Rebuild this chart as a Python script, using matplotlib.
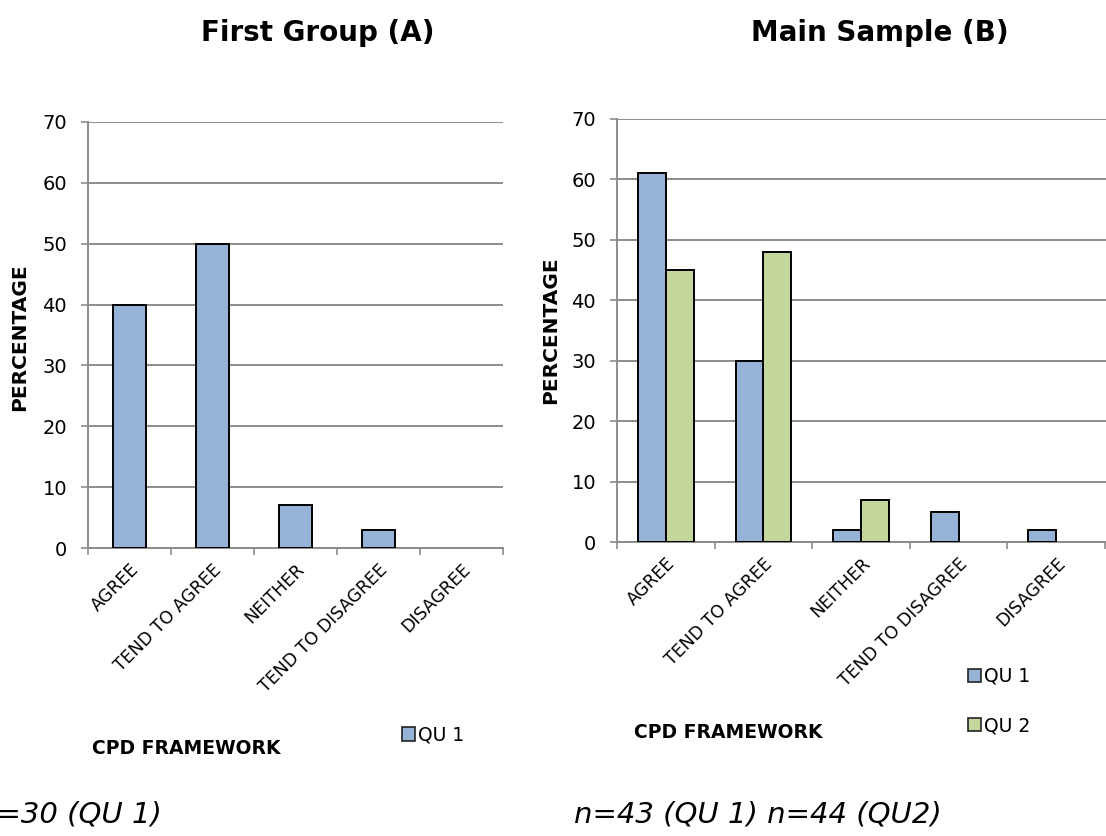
import numpy as np
import matplotlib.pyplot as plt
from matplotlib.patches import Patch

# --- data ---
categories = ['AGREE', 'TEND TO AGREE', 'NEITHER', 'TEND TO DISAGREE', 'DISAGREE']
group_a_qu1 = [40, 50, 7, 3, 0]
sample_b_qu1 = [61, 30, 2, 5, 2]
sample_b_qu2 = [45, 48, 7, 0, 0]

BLUE = '#95B3D7'
GREEN = '#C3D69B'
GRID = '#8C8C8C'

plt.rcParams['font.family'] = ['DejaVu Sans']

W, H = 1106, 836
fig = plt.figure(figsize=(W / 100, H / 100), dpi=100)


def px_axes(x0, y0, x1, y1):
    # axes box given in pixel corners (top-left origin)
    return fig.add_axes([x0 / W, 1 - y1 / H, (x1 - x0) / W, (y1 - y0) / H])


def style(ax, xmax):
    ax.set_ylim(0, 70)
    ax.set_xlim(-0.5, xmax)
    ax.set_yticks(np.arange(0, 71, 10))
    ax.yaxis.grid(True, color=GRID, lw=1.4)
    ax.set_axisbelow(True)
    for s in ['top', 'right']:
        ax.spines[s].set_visible(False)
    for s in ['left', 'bottom']:
        ax.spines[s].set_color(GRID)
        ax.spines[s].set_linewidth(1.4)
    ax.tick_params(axis='y', length=5, width=1.2, color=GRID, labelsize=14, pad=10)
    ax.tick_params(axis='x', which='major', length=0, pad=9)
    ax.tick_params(axis='x', which='minor', length=5, width=1.2, color=GRID)
    ax.set_xticks(np.arange(len(categories)))
    ax.set_xticks(np.arange(len(categories) + 1) - 0.5, minor=True)
    ax.set_xticklabels(categories, rotation=45, ha='right', va='top',
                       rotation_mode='anchor', fontsize=12.5)


def draw_bars(ax, offset, width, values, color):
    x = np.arange(len(values)) + offset
    vals = np.array(values, dtype=float)
    keep = vals > 0
    ax.bar(x[keep], vals[keep], width=width, color=color,
           edgecolor='black', linewidth=1.4, zorder=3)


# First Group (A)
ax1 = px_axes(88, 122, 503, 548)
style(ax1, -0.5 + 415 / 87.4)
draw_bars(ax1, 0, 0.4, group_a_qu1, BLUE)

# Main Sample (B)
ax2 = px_axes(617, 119, 1106, 542)
style(ax2, -0.5 + 489 / 97.6)
w = 1 / 3.5
draw_bars(ax2, -w / 2, w, sample_b_qu1, BLUE)
draw_bars(ax2, w / 2, w, sample_b_qu2, GREEN)

# titles and axis captions
fig.text(318 / W, 1 - 33 / H, 'First Group (A)', fontsize=20, fontweight='bold',
         ha='center', va='center')
fig.text(880 / W, 1 - 33 / H, 'Main Sample (B)', fontsize=20, fontweight='bold',
         ha='center', va='center')
fig.text(20 / W, 1 - 337 / H, 'PERCENTAGE', fontsize=14.5, fontweight='bold',
         rotation=90, ha='center', va='center')
fig.text(551 / W, 1 - 330 / H, 'PERCENTAGE', fontsize=14.5, fontweight='bold',
         rotation=90, ha='center', va='center')
fig.text(186 / W, 1 - 748 / H, 'CPD FRAMEWORK', fontsize=13.5, fontweight='bold',
         ha='center', va='center')
fig.text(728 / W, 1 - 733 / H, 'CPD FRAMEWORK', fontsize=13.5, fontweight='bold',
         ha='center', va='center')

# legends
h_blue = Patch(facecolor=BLUE, edgecolor='#222222', linewidth=1.2)
h_green = Patch(facecolor=GREEN, edgecolor='#222222', linewidth=1.2)
leg_kw = dict(frameon=False, fontsize=13.5, handlelength=0.7, handleheight=0.7,
              handletextpad=0.15, borderpad=0, borderaxespad=0)
fig.legend([h_blue], ['QU 1'], loc='center left',
           bbox_to_anchor=(402 / W, 1 - 735 / H), **leg_kw)
fig.legend([h_blue, h_green], ['QU 1', 'QU 2'], loc='center left',
           bbox_to_anchor=(968 / W, 1 - 701 / H), labelspacing=1.6, **leg_kw)

# sample sizes (the left note runs off the page edge)
fig.text(162 / W, 1 - 815 / H, 'n=30 (QU 1)', fontsize=21, fontstyle='italic',
         ha='right', va='center')
fig.text(574 / W, 1 - 815 / H, 'n=43 (QU 1) n=44 (QU2)', fontsize=21,
         fontstyle='italic', ha='left', va='center')

fig.savefig('out.png', dpi=100)
